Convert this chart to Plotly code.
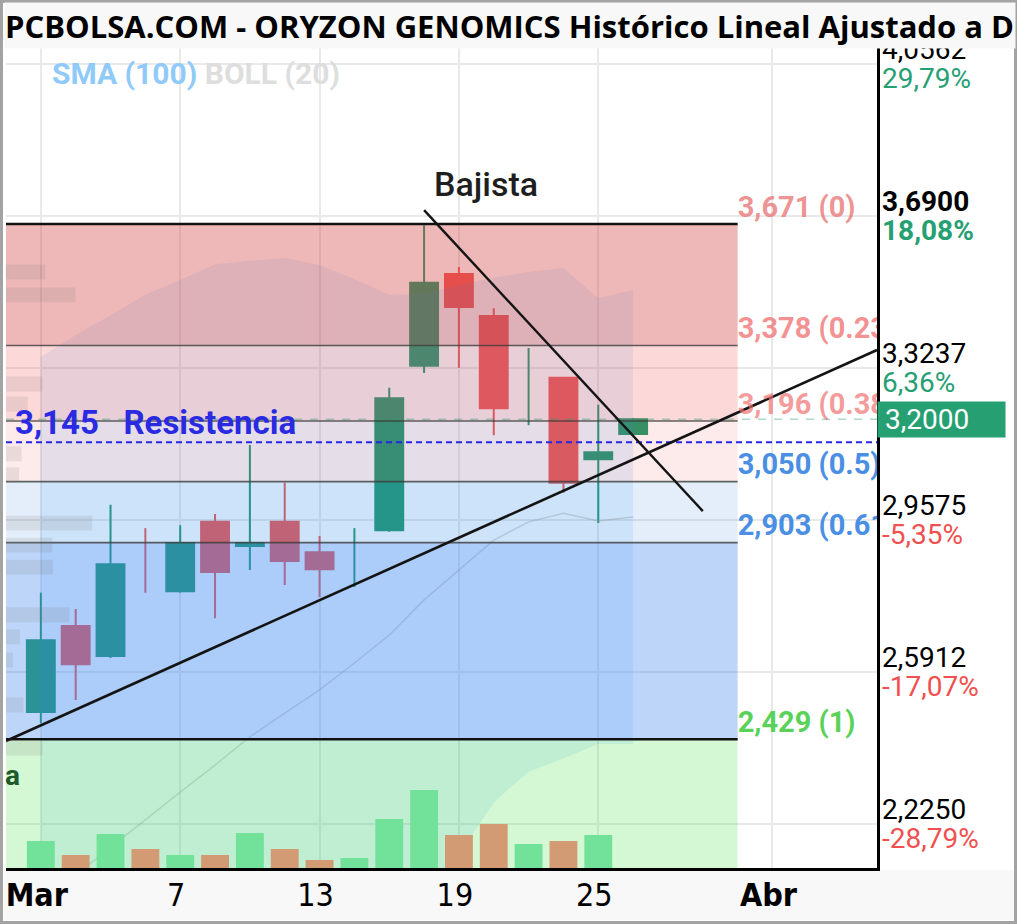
import plotly.graph_objects as go
import pandas as pd

# ---------------- data ----------------
dates = ["2024-03-01", "2024-03-04", "2024-03-05", "2024-03-06", "2024-03-07", "2024-03-08",
         "2024-03-11", "2024-03-12", "2024-03-13", "2024-03-14", "2024-03-15", "2024-03-18",
         "2024-03-19", "2024-03-20", "2024-03-21", "2024-03-22", "2024-03-25", "2024-03-26"]
opens = [2.495, 2.702, 2.630, 2.862, 2.786, 2.953, 2.895, 2.953, 2.880, 2.860, 2.933, 3.329,
         3.550, 3.449, 3.280, 3.300, 3.104, 3.165]
highs = [2.782, 2.743, 2.994, 2.938, 2.945, 2.972, 3.138, 3.047, 2.919, 2.938, 3.276, 3.668,
         3.567, 3.468, 3.372, 3.302, 3.235, 3.203]
lows = [2.468, 2.524, 2.625, 2.782, 2.782, 2.721, 2.837, 2.801, 2.772, 2.796, 2.929, 3.312,
        3.324, 3.162, 3.186, 3.023, 2.950, 3.165]
closes = [2.668, 2.610, 2.851, 2.858, 2.902, 2.832, 2.902, 2.859, 2.839, 2.862, 3.251, 3.529,
          3.471, 3.227, 3.282, 3.047, 3.121, 3.200]
volumes = [270000, 130000, 340000, 190000, 130000, 130000, 350000, 190000, 80000, 100000,
           490000, 780000, 330000, 440000, 240000, 270000, 330000, None]

boll_upper = [3.350, 3.403, 3.451, 3.500, 3.536, 3.574, 3.582, 3.589, 3.572, 3.538, 3.500, 3.502,
              3.524, 3.541, 3.555, 3.565, 3.492, 3.512]
boll_mid = [2.035, 2.102, 2.169, 2.235, 2.302, 2.367, 2.435, 2.492, 2.548, 2.613, 2.680, 2.765,
            2.837, 2.909, 2.953, 2.974, 2.955, 2.965]
boll_lower = [0.720, 0.801, 0.887, 0.970, 1.068, 1.160, 1.288, 1.395, 1.524, 1.688, 1.860, 2.028,
              2.150, 2.277, 2.351, 2.383, 2.418, 2.418]

fib_levels = [3.671, 3.378, 3.196, 3.050, 2.903, 2.429]
fib_labels = ["3,671 (0)", "3,378 (0.236)", "3,196 (0.382)", "3,050 (0.5)", "2,903 (0.618)", "2,429 (1)"]
fib_start, fib_end = "2024-02-29", "2024-03-29"

resistance = 3.145
current_price = 3.200

trend_up_x = ["2024-02-29", "2024-04-04"]
trend_up_y = [2.425, 3.367]
trend_down_x = ["2024-03-18", "2024-03-28"]
trend_down_y = [3.704, 2.979]

# volume-at-price (left side faint profile)
vp_price = [3.555, 3.500, 3.285, 3.237, 3.117, 3.066, 2.950, 2.897, 2.844, 2.729, 2.676, 2.620, 2.512, 2.408]
vp_size = [45, 80, 42, 25, 18, 15, 99, 53, 54, 73, 16, 8, 20, 42]

axis_ticks = [4.0562, 3.6900, 3.3237, 2.9575, 2.5912, 2.2250]
axis_price_text = ["4,0562", "3,6900", "3,3237", "2,9575", "2,5912", "2,2250"]
axis_pct_text = ["29,79%", "18,08%", "6,36%", "-5,35%", "-17,07%", "-28,79%"]
highlight_tick = 3.6900

x_tick_dates = ["2024-03-01", "2024-03-07", "2024-03-13", "2024-03-19", "2024-03-25", "2024-04-01"]
x_tick_text = ["<b>Mar</b>", "7", "13", "19", "25", "<b>Abr</b>"]

axis_days = pd.bdate_range("2024-02-29", "2024-04-04").strftime("%Y-%m-%d").tolist()

# ---------------- styling ----------------
UP = "#1e9868"
DOWN = "#f05550"
W, H = 1020, 924
ML, MR, MT, MB = 6, 143, 48, 56
PW, PH = W - ML - MR, H - MT - MB
FLAT = 0.005  # candles whose body is smaller than this are drawn as a bare wick


def px_x(px):
    return (px - ML) / PW


def px_y(py):
    return (H - MB - py) / PH


fig = go.Figure()

# Candles with a real body
body_idx = [i for i in range(len(dates)) if abs(closes[i] - opens[i]) >= FLAT]
flat_idx = [i for i in range(len(dates)) if abs(closes[i] - opens[i]) < FLAT]
fig.add_trace(go.Candlestick(
    x=[dates[i] for i in body_idx], open=[opens[i] for i in body_idx], high=[highs[i] for i in body_idx],
    low=[lows[i] for i in body_idx], close=[closes[i] for i in body_idx],
    increasing=dict(line=dict(color=UP, width=2), fillcolor=UP),
    decreasing=dict(line=dict(color=DOWN, width=2), fillcolor=DOWN),
    whiskerwidth=0, showlegend=False, hoverinfo="skip"))

# Bare-wick candles
for up in (True, False):
    xs, ys = [], []
    for i in flat_idx:
        if (closes[i] >= opens[i]) == up:
            xs += [dates[i], dates[i], None]
            ys += [lows[i], highs[i], None]
    if xs:
        fig.add_trace(go.Scatter(x=xs, y=ys, mode="lines", line=dict(color=UP if up else DOWN, width=2),
                                 showlegend=False, hoverinfo="skip"))

# Bollinger band fill
fig.add_trace(go.Scatter(x=dates, y=boll_upper, mode="lines", line=dict(width=0, color="rgba(0,0,0,0)"),
                         showlegend=False, hoverinfo="skip"))
fig.add_trace(go.Scatter(x=dates, y=boll_lower, mode="lines", line=dict(width=0, color="rgba(0,0,0,0)"),
                         fill="tonexty", fillcolor="rgba(33,150,243,0.12)", showlegend=False, hoverinfo="skip"))
fig.add_trace(go.Scatter(x=dates, y=boll_mid, mode="lines", line=dict(width=1.5, color="rgba(150,150,150,0.35)"),
                         showlegend=False, hoverinfo="skip"))

# Fibonacci zones (translucent, drawn over candles)
zone_colors = ["rgba(213,68,68,0.38)", "rgba(246,78,78,0.22)", "rgba(238,80,80,0.12)",
               "rgba(75,142,222,0.15)", "rgba(70,135,242,0.35)", "rgba(83,227,83,0.25)"]
for i in range(len(fib_levels)):
    top = fib_levels[i]
    bot = fib_levels[i + 1] if i + 1 < len(fib_levels) else 1.9
    fig.add_trace(go.Scatter(x=[fib_start, fib_end, fib_end, fib_start, fib_start],
                             y=[top, top, bot, bot, top], mode="lines", line=dict(width=0),
                             fill="toself", fillcolor=zone_colors[i], showlegend=False, hoverinfo="skip"))

# current price dashed
fig.add_trace(go.Scatter(x=[axis_days[0], axis_days[-1]], y=[current_price, current_price], mode="lines",
                         line=dict(color="rgba(38,160,115,0.4)", width=1.5, dash="8px,8px"),
                         showlegend=False, hoverinfo="skip"))

# Fib lines
for i, lv in enumerate(fib_levels):
    edge = i in (0, len(fib_levels) - 1)
    fig.add_trace(go.Scatter(x=[fib_start, fib_end], y=[lv, lv], mode="lines",
                             line=dict(color="#111111" if edge else "rgba(60,60,60,0.8)", width=2.5 if edge else 1.6),
                             showlegend=False, hoverinfo="skip"))

# Resistance dashed
fig.add_trace(go.Scatter(x=[axis_days[0], axis_days[-1]], y=[resistance, resistance], mode="lines",
                         line=dict(color="#2626e6", width=2, dash="6px,4px"), showlegend=False, hoverinfo="skip"))

# Trend lines
fig.add_trace(go.Scatter(x=trend_up_x, y=trend_up_y, mode="lines", line=dict(color="#141414", width=2.6),
                         showlegend=False, hoverinfo="skip"))
fig.add_trace(go.Scatter(x=trend_down_x, y=trend_down_y, mode="lines", line=dict(color="#141414", width=2.4),
                         showlegend=False, hoverinfo="skip"))

# Fib labels (clipped at the plot edge)
label_colors = ["rgba(232,120,120,0.8)", "rgba(240,110,110,0.75)", "rgba(240,110,110,0.7)",
                "#4a8fe3", "#4a8fe3", "#5ad25a"]
fig.add_trace(go.Scatter(x=[fib_end] * len(fib_levels), y=fib_levels, mode="text", text=fib_labels,
                         textposition="top right", cliponaxis=True,
                         textfont=dict(family="Roboto", size=29, color=label_colors, weight="bold"),
                         showlegend=False, hoverinfo="skip"))

# Volume bars
vol_colors = ["#72e29a" if c >= o else "#d29b73" for o, c in zip(opens, closes)]
fig.add_trace(go.Bar(x=dates, y=volumes, yaxis="y2", marker=dict(color=vol_colors, line=dict(width=0)),
                     showlegend=False, hoverinfo="skip"))

# Volume profile (left)
fig.add_trace(go.Bar(y=vp_price, x=vp_size, orientation="h", xaxis="x2", yaxis="y", width=0.036,
                     marker=dict(color="rgba(120,120,120,0.15)", line=dict(width=0)),
                     showlegend=False, hoverinfo="skip"))

# ---------------- layout ----------------
y_top, y_bot = 4.0948, 2.1190
fig.update_layout(
    width=W, height=H, margin=dict(l=ML, r=MR, t=MT, b=MB, autoexpand=False),
    paper_bgcolor="white", plot_bgcolor="white",
    showlegend=False, boxgap=0.2, boxgroupgap=0, bargap=0.2,
    xaxis=dict(type="category", categoryorder="array", categoryarray=axis_days, range=[0, 25],
               tickmode="array", tickvals=x_tick_dates, ticktext=x_tick_text, ticks="",
               tickfont=dict(family="Liberation Sans Narrow, DejaVu Sans Condensed, sans-serif", size=32, color="black"),
               ticklabelstandoff=-3, ticklabelshift=-4, automargin=False,
               showgrid=True, gridcolor="#e9e9e9", gridwidth=2,
               showline=True, linecolor="black", linewidth=3, zeroline=False,
               rangeslider=dict(visible=False), fixedrange=True),
    yaxis=dict(side="right", range=[y_bot, y_top], tickmode="array", tickvals=axis_ticks,
               showticklabels=False, ticks="", showgrid=True, gridcolor="#e9e9e9", gridwidth=2,
               showline=True, linecolor="black", linewidth=3, zeroline=False, fixedrange=True,
               automargin=False),
    yaxis2=dict(overlaying="y", range=[0, 8.2e6], visible=False, fixedrange=True),
    xaxis2=dict(overlaying="x", range=[0, 1000], visible=False, fixedrange=True),
)

shapes = [
    dict(type="rect", xref="paper", yref="paper", x0=px_x(4), x1=px_x(1014), y0=px_y(920), y1=px_y(870),
         fillcolor="#f8f8f8", line=dict(width=0), layer="below"),
    dict(type="rect", xref="paper", yref="paper", x0=px_x(1.5), x1=px_x(1015.5), y0=px_y(922.5), y1=px_y(1.5),
         fillcolor="rgba(0,0,0,0)", line=dict(color="#a3a3a3", width=3), layer="above"),
]
fig.update_layout(shapes=shapes)

ann = []
# right axis labels
for v, ptxt, pct in zip(axis_ticks, axis_price_text, axis_pct_text):
    bold = abs(v - highlight_tick) < 1e-9
    pcol = "#26a073" if not pct.startswith("-") else "#f05050"
    ann.append(dict(xref="paper", yref="y", x=1, y=v, xanchor="left", yanchor="middle", xshift=3, yshift=15,
                    text=f"<b>{ptxt}</b>" if bold else ptxt, showarrow=False,
                    font=dict(family="Roboto", size=28, color="black")))
    ann.append(dict(xref="paper", yref="y", x=1, y=v, xanchor="left", yanchor="middle", xshift=3, yshift=-14,
                    text=f"<b>{pct}</b>" if bold else pct, showarrow=False,
                    font=dict(family="Roboto", size=28, color=pcol)))
# current price box
ann.append(dict(xref="paper", yref="y", x=1, y=current_price, xanchor="left", yanchor="middle", xshift=0,
                text="\u00a03,2000", showarrow=False, bgcolor="#26a073", width=127, height=35, align="left",
                borderpad=0, font=dict(family="Roboto", size=28, color="white")))
# resistance label
ann.append(dict(xref="paper", yref="y", x=px_x(13), y=resistance, xanchor="left", yanchor="middle", yshift=20,
                text="<b>3,145\u00a0\u00a0 Resistencia</b>", showarrow=False,
                font=dict(family="Roboto", size=33, color="#2a2ae2")))
# Bajista
ann.append(dict(xref="x", yref="y", x=trend_down_x[0], y=trend_down_y[0], xanchor="left", yanchor="bottom",
                xshift=8, yshift=4, text="Bajista", showarrow=False,
                font=dict(family="Roboto", size=34, color="#1e1e1e", weight=500)))
# cut label on the left
ann.append(dict(xref="paper", yref="y", x=0, y=2.343, xanchor="left", yanchor="middle", xshift=-3,
                text="<b>a</b>", showarrow=False, font=dict(family="Roboto", size=28, color="#1f5a2a")))
# indicator legend
ann.append(dict(xref="paper", yref="paper", x=px_x(50), y=px_y(73), xanchor="left", yanchor="middle",
                text="<b><span style='color:#90caf9'>SMA (100)</span> <span style='color:#dedede'>BOLL (20)</span></b>",
                showarrow=False, font=dict(family="Roboto", size=30)))
# title bar (drawn last to cover the top label)
ann.append(dict(xref="paper", yref="paper", x=px_x(4), y=px_y(25.5), xanchor="left", yanchor="middle",
                text="<b>PCBOLSA.COM - ORYZON GENOMICS Histórico Lineal Ajustado a D</b>", showarrow=False,
                bgcolor="#f8f8f8", width=1010, height=45, align="left", borderpad=0,
                font=dict(family="Open Sans", size=31, color="black")))
fig.update_layout(annotations=ann)

fig.write_html("out.html", config={"displayModeBar": False})
